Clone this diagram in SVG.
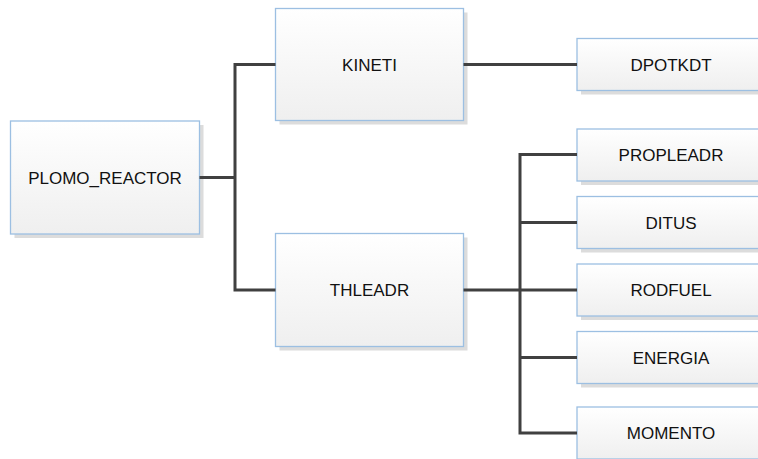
<svg xmlns="http://www.w3.org/2000/svg" width="758" height="459" viewBox="0 0 758 459">
<defs>
<linearGradient id="g" x1="0" y1="0" x2="0" y2="1">
<stop offset="0" stop-color="#ffffff"/>
<stop offset="1" stop-color="#efefef"/>
</linearGradient>
<style>
.sh{fill:#dcdcdc}
.bx{fill:url(#g);stroke:#9cbfe2;stroke-width:1.3}
.t{font-family:"Liberation Sans",Arial,sans-serif;font-size:17px;fill:#111;text-anchor:middle}
.c{fill:none;stroke:#404040;stroke-width:3;stroke-linejoin:miter}
</style>
</defs>
<rect width="758" height="459" fill="#ffffff"/>
<g id="PLOMO_REACTOR">
<rect class="sh" x="14.5" y="125" width="189" height="113"/>
<rect class="bx" x="10.5" y="121" width="189" height="113"/>
<text class="t" x="105" y="183.6">PLOMO_REACTOR</text>
</g>
<g id="KINETI">
<rect class="sh" x="279.5" y="12.5" width="188" height="112"/>
<rect class="bx" x="275.5" y="8.5" width="188" height="112"/>
<text class="t" x="369.5" y="70.6">KINETI</text>
</g>
<g id="THLEADR">
<rect class="sh" x="279.5" y="237.5" width="188" height="113"/>
<rect class="bx" x="275.5" y="233.5" width="188" height="113"/>
<text class="t" x="369.5" y="296.1">THLEADR</text>
</g>
<g id="DPOTKDT">
<rect class="sh" x="581" y="42.5" width="188" height="52"/>
<rect class="bx" x="577" y="38.5" width="188" height="52"/>
<text class="t" x="671" y="70.6">DPOTKDT</text>
</g>
<g id="PROPLEADR">
<rect class="sh" x="581" y="133" width="188" height="52"/>
<rect class="bx" x="577" y="129" width="188" height="52"/>
<text class="t" x="671" y="161.1">PROPLEADR</text>
</g>
<g id="DITUS">
<rect class="sh" x="581" y="200.5" width="188" height="52"/>
<rect class="bx" x="577" y="196.5" width="188" height="52"/>
<text class="t" x="671" y="228.6">DITUS</text>
</g>
<g id="RODFUEL">
<rect class="sh" x="581" y="268" width="188" height="52"/>
<rect class="bx" x="577" y="264" width="188" height="52"/>
<text class="t" x="671" y="296.1">RODFUEL</text>
</g>
<g id="ENERGIA">
<rect class="sh" x="581" y="335.5" width="188" height="52"/>
<rect class="bx" x="577" y="331.5" width="188" height="52"/>
<text class="t" x="671" y="363.6">ENERGIA</text>
</g>
<g id="MOMENTO">
<rect class="sh" x="581" y="411" width="188" height="52"/>
<rect class="bx" x="577" y="407" width="188" height="52"/>
<text class="t" x="671" y="439.1">MOMENTO</text>
</g>
<g id="connectors">
<path class="c" d="M199.5 177.5H235M275.5 64.5H235V290H275.5"/>
<path class="c" d="M463.5 64.5H577"/>
<path class="c" d="M463.5 290H577M577 154.5H520V433H577M520 222.5H577M520 357.5H577"/>
</g>
</svg>
